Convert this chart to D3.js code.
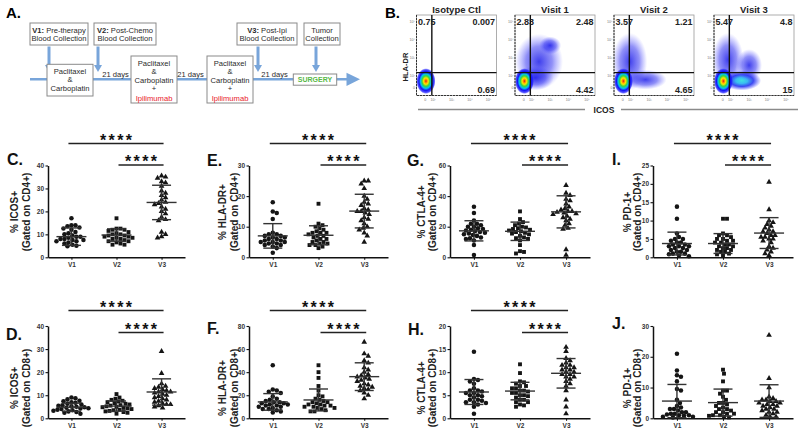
<!DOCTYPE html>
<html><head><meta charset="utf-8">
<script src="https://cdn.jsdelivr.net/npm/d3@7"></script>
<style>html,body{margin:0;padding:0;background:#fff;} svg{display:block;font-family:"Liberation Sans",Arial,sans-serif;}</style>
</head><body><svg id="c" width="800" height="436"></svg>
<script>
// ================= DATA =================
const visits = ["V1", "V2", "V3"];

// C. % ICOS+ (CD4+)
const icosCD4 = [
  [17,14,14,13.5,13,12.5,12,11,10.5,10,9.5,9,9,8.5,8,8,7.5,7.5,7,7,6.5,6,5.5,5,4.8],
  [17,12.5,12.5,12,12,11.5,11,10.5,10,10,9.5,9.5,9,9,8.5,8.5,8,8,7.5,7,7,6.5,6,5.5,5.5],
  [35.5,35,34.5,33,32.5,31,29,28,27,26,25,24,23.5,23,22,21,20,19,17.5,16.5,16,11,10,9,8.5]
];
const icosCD4Stats = [[9.0,3.8],[9.7,2.7],[23.9,7.5]];
// E. % HLA-DR+ (CD4+)
const hladrCD4 = [
  [18,15,14.5,12.5,8,7.5,7.5,7,7,6.5,6.5,6,6,5.5,5.5,5,5,5,4.5,4.5,4,4,3.5,3,1.5],
  [17.5,11,10.5,10,9.5,9,8.5,8,8,8,7.5,7,7,6.5,6,6,5.5,5,5,4.5,4.5,4,4,3.5,3],
  [25,25,24,22.5,20,19,18,17.5,17,16,15.5,15,15,14.5,14,13,12.5,12,11,10,9.5,9,8,7,5]
];
const hladrCD4Stats = [[7.0,4.0],[7.2,3.1],[15.1,5.5]];
// G. % CTLA-4+ (CD4+)
const ctla4CD4 = [
  [33,29,24,22,22,21,20,20,19,18.5,18,17.5,17,16.5,16,15.5,15,14.5,14,13,12.5,12,11,8,1.5],
  [30,25,23,22,21,20,19.5,19,18.5,18,17.5,17,16.5,16,15.5,15,14,13,12.5,12,11,8,4,3.5,2.5],
  [47,42,40.5,38,37,35,33,32,31,30,30,29.5,29,28.5,28,27,26,25,24,22,21,19,18.5,5,1.5]
];
const ctla4CD4Stats = [[17.3,6.6],[17.0,6.0],[29.7,10.5]];
// I. % PD-1+ (CD4+)
const pd1CD4 = [
  [13.8,10.5,6.5,5.5,5,5,4.5,4,4,3.5,3.5,3,3,3,2.5,2.5,2,2,1.5,1.5,1,1,0.8,0.5,0.3],
  [10.5,10.5,6.5,6,6,5.5,5,5,4.5,4.5,4,4,3.5,3.5,3,3,2.5,2.5,2,2,1.5,1.5,1,0.8,0.5],
  [20.5,13,10,9.5,9,8.5,8,7.5,7,7,6.5,6,6,5.5,5.5,5,5,4.5,4,3,2.5,2,1.5,1,0.5]
];
const pd1CD4Stats = [[3.75,3.1],[3.75,2.7],[6.6,4.2]];
// D. % ICOS+ (CD8+)
const icosCD8 = [
  [9,8.7,8.2,7.6,7.4,7,6.7,6.3,6,5.7,5.4,5.2,5,4.8,4.6,4.4,4.2,4,3.7,3.5,3.3,3,2.7,2.4,2],
  [10.5,9,8.5,8,7.6,7.3,7,6.6,6.3,6,5.7,5.5,5.2,5,4.8,4.5,4.3,4,3.7,3.5,3.2,3,2.7,2.4,2],
  [29,19.5,15,14,13.5,13,12.5,12,11.5,11.5,11,10.5,10,9.5,9,8.5,8,7.5,7,6.5,6,6,5.5,5,4.5]
];
const icosCD8Stats = [[4.8,1.75],[5.3,2.2],[11.4,5.7]];
// F. % HLA-DR+ (CD8+)
const hladrCD8 = [
  [46,25,24,23,22,19,17,16,15,14,14,13,13,12,12,11,11,10,10,9,8,8,7,6,5],
  [46,40,35,28,24,20,19,17,16,15,14,14,13,12,12,11,11,10,10,9,9,8,7,6,6],
  [66,56,54,50,48,44,42,40,38,37,36,35,34,33,32,30,29,28,27,26,25,24,22,20,17]
];
const hladrCD8Stats = [[14.2,7.2],[15.9,9.5],[36.1,12]];
// H. % CTLA-4+ (CD8+)
const ctla4CD8 = [
  [14.4,8.5,8.3,8,7.5,6.5,6,6,5.8,5.5,5.5,5,5,4.8,4.5,4,4,3.8,3.5,3.5,3.3,3,2.5,1],
  [11.7,9.8,8,7.8,7.5,7,7,6.5,6.5,6,6,5.8,5.5,5.5,5,5,4.8,4.5,4,4,3.5,3.5,3,2.8,2.5],
  [15.4,14.5,13,12.5,12,11.5,11.5,11,11,10.5,10.5,10,10,9.5,9.5,9,9,8.5,8,7.5,7,6,4,2.5,1]
];
const ctla4CD8Stats = [[5.7,2.7],[5.9,1.9],[9.75,3.2]];
// J. % PD-1+ (CD8+)
const pd1CD8 = [
  [21,15.5,14,13.5,12,9.5,9,6,5,4,3.5,3,3,2.5,2,2,1.5,1.5,1.2,1,1,0.8,0.5,0.5,0.3],
  [15.8,14.5,12,9,9,8,7,6,5,5,4.5,4,3.5,3,3,2.5,2,2,1.5,1.5,1,1,0.8,0.5,0.3],
  [27,13,10,7,6.5,6,6,5.5,5.5,5,5,4.5,4.5,4,4,3.5,3,3,2.5,2,2,1.5,1,0.5,0.5]
];
const pd1CD8Stats = [[5.6,5.4],[5.1,4.4],[5.6,5.3]];

const panelData  = [icosCD4, hladrCD4, ctla4CD4, pd1CD4, icosCD8, hladrCD8, ctla4CD8, pd1CD8];
const panelStats = [icosCD4Stats, hladrCD4Stats, ctla4CD4Stats, pd1CD4Stats, icosCD8Stats, hladrCD8Stats, ctla4CD8Stats, pd1CD8Stats];
const panelLetters = ["C.", "E.", "G.", "I.", "D.", "F.", "H.", "J."];
const markerTitles = ["% ICOS+", "% HLA-DR+", "% CTLA-4+", "% PD-1+", "% ICOS+", "% HLA-DR+", "% CTLA-4+", "% PD-1+"];
const gateTitles = ["(Gated on CD4+)", "(Gated on CD4+)", "(Gated on CD4+)", "(Gated on CD4+)",
                    "(Gated on CD8+)", "(Gated on CD8+)", "(Gated on CD8+)", "(Gated on CD8+)"];
const yTicks = [[0,10,20,30,40],[0,10,20,30],[0,20,40,60],[0,5,10,15,20,25],
                [0,10,20,30,40],[0,20,40,60,80],[0,5,10,15,20],[0,10,20,30]];
const significant = [true, true, true, true, true, true, true, false];
const sigText = "****";

// Flow cytometry panel (B)
const flowTitles = ["Isotype Ctl", "Visit 1", "Visit 2", "Visit 3"];
const flowQuadrants = [["0.75","0.007","0.69"],["2.83","2.48","4.42"],["3.57","1.21","4.65"],["5.47","4.8","15"]];
const flowXTicks = [["0",1.57],["10²",2],["10³",3],["10⁴",4],["10⁵",5]];
const flowYTicks = [["0",1.32],["10²",2],["10³",3],["10⁴",4],["10⁵",5]];
const flowGate = [1.93, 2.19];           // ICOS, HLA-DR gate (log decades)
const flowCore = [1.61, 1.72, 0.52, 0.72]; // cx, cy, rx, ry (decades)
const flowClouds = [
  [],
  [[2.4,2.8,1.3,1.55,"cloud"],[3.0,3.7,0.6,0.5,"cloud"],[2.2,1.9,1.0,0.7,"cloud"]],
  [[1.95,2.8,0.95,1.6,"cloud"],[2.8,1.8,1.15,0.55,"cloud"]],
  [[1.85,2.9,0.85,1.5,"cloud"],[2.6,1.75,1.05,0.55,"arm"],[3.0,2.6,0.7,0.9,"cloud"]]
];

// ================= DRAW =================
const svg = d3.select("#c");
svg.append("rect").attr("width",800).attr("height",436).attr("fill","#fff");
const defs = svg.append("defs");

// ---------- Panel A : schematic ----------
const A = svg.append("g");
const blue = "#78a5da";
A.append("text").attr("x",6).attr("y",18).attr("font-size",15).attr("font-weight","bold").text("A.");
A.append("line").attr("x1",30).attr("x2",348).attr("y1",79.3).attr("y2",79.3)
  .attr("stroke",blue).attr("stroke-width",2.6);
A.append("path").attr("d","M346.5,72.7 L360,79.3 L346.5,86 Z").attr("fill",blue);
[49, 98, 258, 316].forEach(x => {
  A.append("line").attr("x1",x).attr("x2",x).attr("y1",46.5).attr("y2",65.5)
    .attr("stroke",blue).attr("stroke-width",3);
  A.append("path").attr("d",`M${x-4},65 L${x+4},65 L${x},72 Z`).attr("fill",blue);
});
function box(x,y,w,h){
  A.append("rect").attr("x",x).attr("y",y).attr("width",w).attr("height",h)
    .attr("fill","#fff").attr("stroke","#8a8a8a").attr("stroke-width",1);
}
function boxText(cx, base, parts, opts={}){
  const t = A.append("text").attr("x",cx).attr("y",base).attr("text-anchor","middle")
    .attr("font-size",opts.size||7.6).attr("fill",opts.fill||"#2a2a2a");
  parts.forEach(p => {
    const s = t.append("tspan").text(p[0]);
    if (p[1]) s.attr("font-weight","bold");
    if (p[2]) s.attr("fill",p[2]);
  });
}
// top boxes
box(30,23,58,22); boxText(59,32.5,[["V1:",1],[" Pre-therapy"]]); boxText(59,41,[["Blood Collection"]]);
box(94,23,62,22); boxText(125,32.5,[["V2:",1],[" Post-Chemo"]]); boxText(125,41,[["Blood Collection"]]);
box(237,23,60,22); boxText(267,32.5,[["V3:",1],[" Post-Ipi"]]); boxText(267,41,[["Blood Collection"]]);
box(304,23,36,22); boxText(322,32.5,[["Tumor"]]); boxText(322,41,[["Collection"]]);
// treatment boxes
box(47,64.3,46,31.7);
[["Paclitaxel",73.8],["&",82],["Carboplatin",90.5]].forEach(d=>boxText(70,d[1],[[d[0]]]));
[131,207].forEach(x0=>{
  box(x0,56,46,47);
  [["Paclitaxel",66],["&",74.3],["Carboplatin",82.6],["+",91]].forEach(d=>boxText(x0+23,d[1],[[d[0]]]));
  boxText(x0+23,100.8,[["Ipilimumab",0,"#e8202a"]]);
});
[[115.5],[190.5],[274.5]].forEach(d=>boxText(d[0],77,[["21 days"]]));
box(293.3,74,43.4,11.2);
boxText(315,82.3,[["SURGERY",1,"#58b947"]],{size:7});

// ---------- Panel B : flow plots ----------
const B = svg.append("g");
B.append("text").attr("x",385).attr("y",17.5).attr("font-size",15).attr("font-weight","bold").text("B.");
B.append("text").attr("transform","translate(405.5,67) rotate(-90)").attr("text-anchor","middle")
  .attr("dy","0.35em").attr("font-size",7.5).attr("font-weight","bold").attr("fill","#222").text("HLA-DR");
B.append("text").attr("x",604).attr("y",112.5).attr("text-anchor","middle").attr("font-size",8.5)
  .attr("font-weight","bold").attr("fill","#222").text("ICOS");
B.append("line").attr("x1",418).attr("x2",585).attr("y1",109.5).attr("y2",109.5).attr("stroke","#8a8a8a").attr("stroke-width",1.3);
B.append("line").attr("x1",621).attr("x2",798).attr("y1",109.5).attr("y2",109.5).attr("stroke","#8a8a8a").attr("stroke-width",1.3);

// gradients
const jet = defs.append("radialGradient").attr("id","jet");
[[0,"#d4141c",1],[0.1,"#ff7a00",1],[0.24,"#ffe600",1],[0.4,"#3cd43c",1],[0.56,"#00c6f0",1],
 [0.72,"#1414f5",1],[0.88,"#1a1aff",0.75],[1,"#2a2aff",0]].forEach(s=>
  jet.append("stop").attr("offset",s[0]).attr("stop-color",s[1]).attr("stop-opacity",s[2]));
const cloud = defs.append("radialGradient").attr("id","cloud");
[[0,"#1010e8",0.8],[0.55,"#2222f0",0.5],[0.85,"#4a4aff",0.18],[1,"#6a6aff",0]].forEach(s=>
  cloud.append("stop").attr("offset",s[0]).attr("stop-color",s[1]).attr("stop-opacity",s[2]));
const arm = defs.append("radialGradient").attr("id","arm");
[[0,"#40e0e0",1],[0.3,"#30b8f0",0.95],[0.6,"#1a2af0",0.85],[1,"#2a2aff",0]].forEach(s=>
  arm.append("stop").attr("offset",s[0]).attr("stop-color",s[1]).attr("stop-opacity",s[2]));

const flowLeft = [416.5, 515, 614, 714];
const flowW = 80, flowTop = 15, flowBottom = 95.5;
flowTitles.forEach((title, i) => {
  const L = flowLeft[i];
  const fx = d3.scaleLinear().domain([1.1, 5.43]).range([L, L + flowW]);
  const fy = d3.scaleLinear().domain([0.92, 5.39]).range([flowBottom, flowTop]);
  const g = B.append("g");
  const cid = "clip" + i;
  defs.append("clipPath").attr("id",cid).append("rect")
    .attr("x",L).attr("y",flowTop).attr("width",flowW).attr("height",flowBottom-flowTop);
  const pg = g.append("g").attr("clip-path",`url(#${cid})`);
  flowClouds[i].forEach(c => {
    pg.append("ellipse").attr("cx",fx(c[0])).attr("cy",fy(c[1]))
      .attr("rx",fx(c[0]+c[2])-fx(c[0])).attr("ry",fy(c[1])-fy(c[1]+c[3]))
      .attr("fill",`url(#${c[4]})`);
  });
  pg.append("ellipse").attr("cx",fx(flowCore[0])).attr("cy",fy(flowCore[1]))
    .attr("rx",fx(flowCore[0]+flowCore[2])-fx(flowCore[0]))
    .attr("ry",fy(flowCore[1])-fy(flowCore[1]+flowCore[3]))
    .attr("fill","url(#jet)");
  // frame
  g.append("rect").attr("x",L).attr("y",flowTop).attr("width",flowW).attr("height",flowBottom-flowTop)
    .attr("fill","none").attr("stroke","#9a9a9a").attr("stroke-width",0.8);
  g.append("path").attr("d",`M${L},${flowTop} V${flowBottom} H${L+flowW}`)
    .attr("fill","none").attr("stroke","#333").attr("stroke-width",1).attr("stroke-dasharray","2,1");
  // gates
  g.append("line").attr("x1",fx(flowGate[0])).attr("x2",fx(flowGate[0])).attr("y1",flowTop).attr("y2",flowBottom)
    .attr("stroke","#111").attr("stroke-width",1.4);
  g.append("line").attr("x1",L).attr("x2",L+flowW).attr("y1",fy(flowGate[1])).attr("y2",fy(flowGate[1]))
    .attr("stroke","#111").attr("stroke-width",1.4);
  // ticks
  flowXTicks.forEach(t => g.append("text").attr("x",fx(t[1])).attr("y",flowBottom+5)
    .attr("text-anchor","middle").attr("font-size",3.6).attr("fill","#777").text(t[0]));
  flowYTicks.forEach(t => g.append("text").attr("x",L-1.5).attr("y",fy(t[1])+1.2)
    .attr("text-anchor","end").attr("font-size",3.6).attr("fill","#777").text(t[0]));
  // title and quadrant numbers
  g.append("text").attr("x",L+flowW/2).attr("y",12.5).attr("text-anchor","middle")
    .attr("font-size",9.5).attr("font-weight","bold").attr("fill","#222").text(title);
  const q = flowQuadrants[i];
  g.append("text").attr("x",L+1.5).attr("y",24.5).attr("font-size",9).attr("font-weight","bold").attr("fill","#222").text(q[0]);
  g.append("text").attr("x",L+flowW-1.5).attr("y",24.5).attr("text-anchor","end").attr("font-size",9).attr("font-weight","bold").attr("fill","#222").text(q[1]);
  g.append("text").attr("x",L+flowW-1.5).attr("y",93).attr("text-anchor","end").attr("font-size",9).attr("font-weight","bold").attr("fill","#222").text(q[2]);
});

// ---------- Scatter panels C-J ----------
const colAxisX = [48, 249, 450, 653];
const colAxisEnd = [185, 388, 590, 793];
const titleOffsets = [[-34,-22],[-27,-15],[-29,-18],[-26,-16]];
const rowBase = [257.3, 418.3], rowTop = [165.5, 326];
const rowTitleCenter = [212, 388];
const rowLongLine = [143.5, 310.5], rowShortLine = [165, 332.5];
const letterPos = [[7,165],[207,166],[407,166],[612,165],[6,340],[207,334],[408,335],[612,329]];
const symbols = [d3.symbolCircle, d3.symbolSquare, d3.symbolTriangle];
const symSize = [16, 15, 14];

function swarm(vals, y, cx, dmin){
  const pts = vals.map(v => ({v, py: y(v)})).sort((a,b) => d3.ascending(a.py, b.py));
  const placed = [];
  const step = dmin / 4;
  pts.forEach(p => {
    for (let k = 0; k < 200; k++) {
      const off = (k % 2 === 1 ? 1 : -1) * Math.ceil(k / 2) * step;
      const px = cx + off;
      const ok = placed.every(q => (q.px - px) ** 2 + (q.py - p.py) ** 2 >= dmin * dmin);
      if (ok) { p.px = px; placed.push(p); break; }
    }
  });
  return placed;
}

panelData.forEach((data, i) => {
  const row = Math.floor(i / 4), col = i % 4;
  const ax = colAxisX[col], axEnd = colAxisEnd[col];
  const ticks = yTicks[i];
  const y = d3.scaleLinear().domain([0, d3.max(ticks)]).range([rowBase[row], rowTop[row]]);
  const x = d3.scalePoint().domain(visits).range([ax, axEnd]).padding(0.52);
  const g = svg.append("g");

  const ya = g.append("g").attr("transform", `translate(${ax},0)`)
    .call(d3.axisLeft(y).tickValues(ticks).tickSize(2.5).tickSizeOuter(0).tickPadding(1.5));
  const xa = g.append("g").attr("transform", `translate(0,${rowBase[row]})`)
    .call(d3.axisBottom(x).tickSize(2.5).tickSizeOuter(0).tickPadding(2.5));
  [ya, xa].forEach(a => {
    a.attr("font-family", null).attr("font-size", null);
    a.select(".domain").attr("stroke", "#111").attr("stroke-width", 1.5);
    a.selectAll(".tick line").attr("stroke", "#111").attr("stroke-width", 1.1);
    a.selectAll(".tick text").attr("font-size", 6.5).attr("font-weight", "bold").attr("fill", "#333");
  });

  // titles
  g.append("text").attr("transform", `translate(${ax + titleOffsets[col][0]},${rowTitleCenter[row]}) rotate(-90)`)
    .attr("text-anchor", "middle").attr("dy", "0.35em").attr("font-size", 10).attr("font-weight", "bold")
    .attr("fill", "#222").text(markerTitles[i]);
  g.append("text").attr("transform", `translate(${ax + titleOffsets[col][1]},${rowTitleCenter[row]}) rotate(-90)`)
    .attr("text-anchor", "middle").attr("dy", "0.35em").attr("font-size", 10).attr("font-weight", "bold")
    .attr("fill", "#222").text(gateTitles[i]);
  g.append("text").attr("x", letterPos[i][0]).attr("y", letterPos[i][1]).attr("font-size", 16)
    .attr("font-weight", "bold").attr("fill", "#111").text(panelLetters[i]);

  // points
  data.forEach((vals, gi) => {
    const pts = swarm(vals, y, x(visits[gi]), 4.0);
    g.selectAll(null).data(pts).enter().append("path")
      .attr("transform", d => `translate(${d.px},${d.py})`)
      .attr("d", d3.symbol().type(symbols[gi]).size(symSize[gi])())
      .attr("fill", "#151515");
    // mean +- SD
    const [m, sd] = panelStats[i][gi];
    const cx = x(visits[gi]);
    const eb = g.append("g").attr("stroke", "#333").attr("stroke-width", 1.4);
    eb.append("line").attr("x1", cx - 15).attr("x2", cx + 15).attr("y1", y(m)).attr("y2", y(m));
    eb.append("line").attr("x1", cx).attr("x2", cx).attr("y1", y(m - sd)).attr("y2", y(m + sd));
    eb.append("line").attr("x1", cx - 9.5).attr("x2", cx + 9.5).attr("y1", y(m - sd)).attr("y2", y(m - sd));
    eb.append("line").attr("x1", cx - 9.5).attr("x2", cx + 9.5).attr("y1", y(m + sd)).attr("y2", y(m + sd));
  });

  // significance
  if (significant[i]) {
    const lines = [[x("V1") - 3, x("V3") + 2, rowLongLine[row]], [x("V2") + 2, x("V3") + 2, rowShortLine[row]]];
    lines.forEach(l => {
      g.append("line").attr("x1", l[0]).attr("x2", l[1]).attr("y1", l[2]).attr("y2", l[2])
        .attr("stroke", "#222").attr("stroke-width", 1.5);
      g.append("text").attr("x", (l[0] + l[1]) / 2 + 1.2).attr("y", l[2] + 2)
        .attr("text-anchor", "middle").attr("font-size", 16).attr("font-weight", "bold")
        .attr("letter-spacing", 2.4).attr("fill", "#111").text(sigText);
    });
  }
});
</script></body></html>
